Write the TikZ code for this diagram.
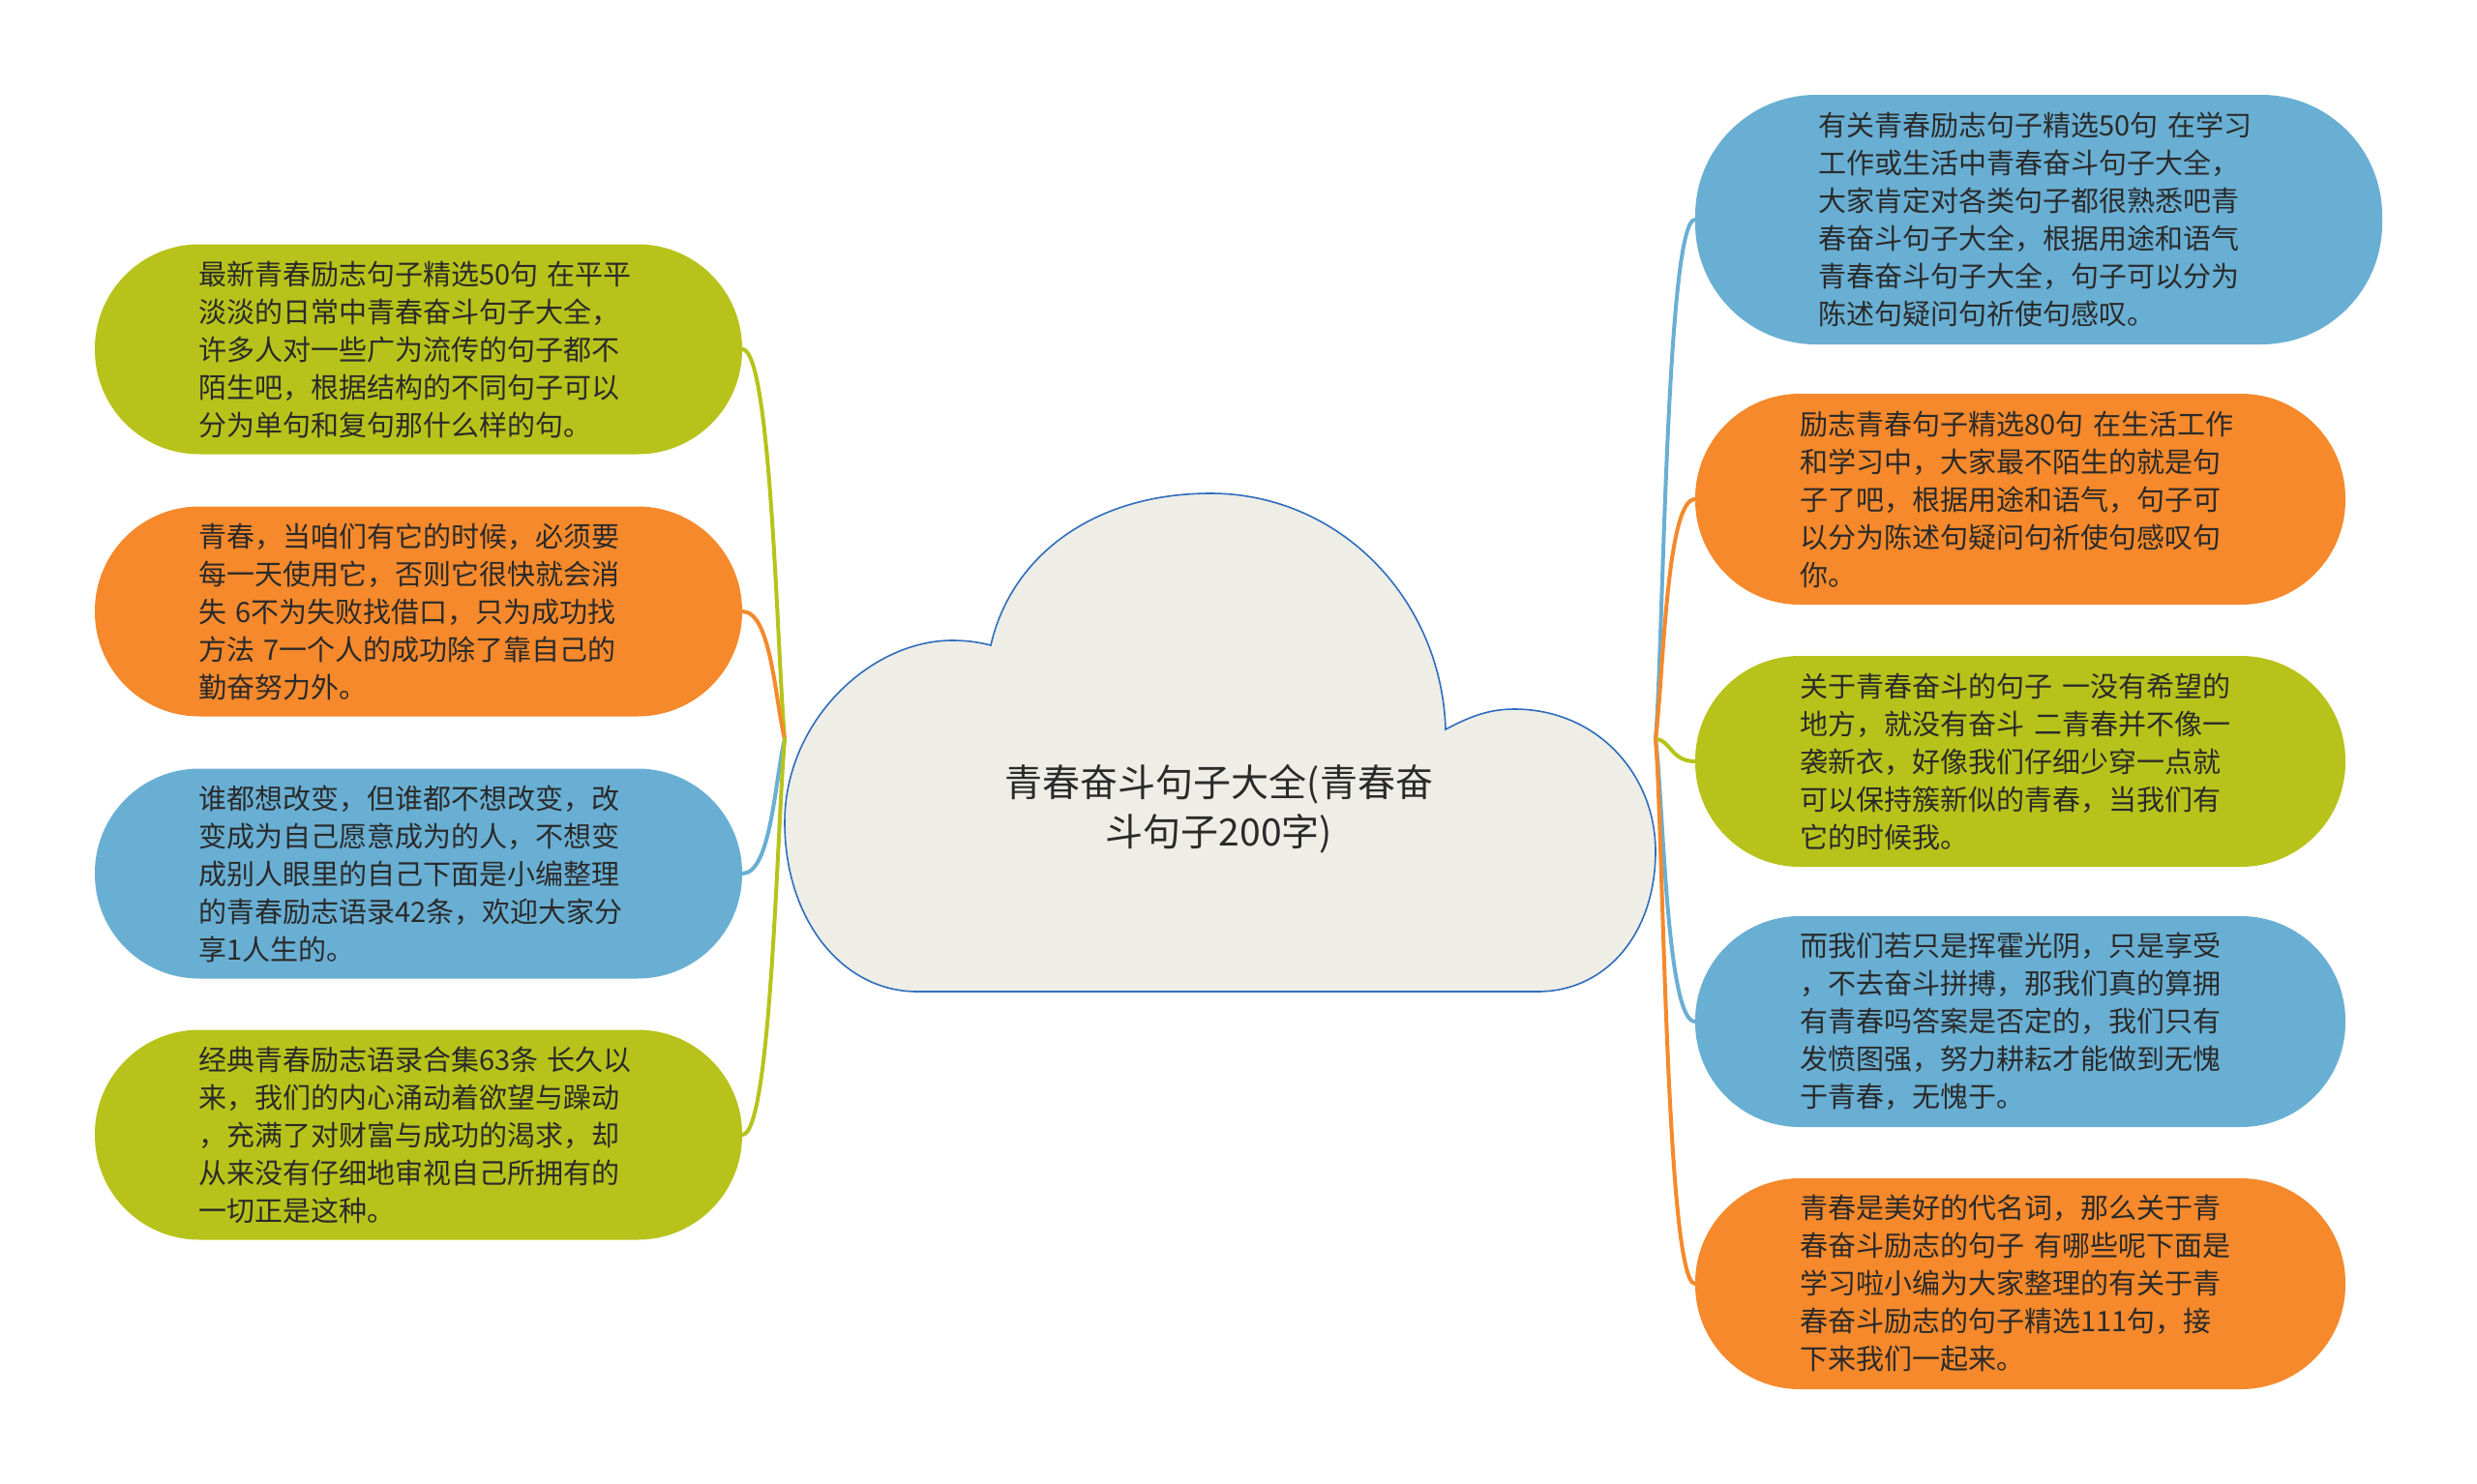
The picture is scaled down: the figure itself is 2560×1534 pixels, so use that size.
\documentclass[tikz,border=0pt]{standalone}
\usepackage{fontspec}
\setmainfont{Noto Sans CJK SC}
\usetikzlibrary{calc}
\definecolor{cgreen}{HTML}{B7C31A}
\definecolor{corange}{HTML}{F5892B}
\definecolor{cblue}{HTML}{69AFD3}
\definecolor{cloudfill}{HTML}{EEEEE6}
\definecolor{cloudline}{HTML}{2F6DBE}
\definecolor{txt}{HTML}{2A2A2A}
\begin{document}
\begin{tikzpicture}[x=1pt,y=-1pt,
  leaf/.style={rounded corners=108pt, minimum width=669pt, minimum height=217pt,
    text width=455pt, align=left, inner sep=0pt,
    font=\fontsize{29}{39}\selectfont, text=txt},
  bigleaf/.style={leaf, rounded corners=125pt, minimum width=710pt, minimum height=258pt},
  link/.style={line width=4pt, line cap=round},
  title/.style={font=\fontsize{39}{51}\selectfont, text=txt, align=center}]
\useasboundingbox (0,0) rectangle (2560,1534);
\fill[white] (0,0) rectangle (2560,1534);

% cloud
\draw[fill=cloudfill, draw=cloudline, line width=1.6pt]
  (1024,667) .. controls (1045,575) and (1130,510) .. (1251,510)
  .. controls (1385,510) and (1490,620) .. (1494,754)
  .. controls (1520,740) and (1540,733) .. (1565,733)
  .. controls (1650,733) and (1711,800) .. (1711,880)
  .. controls (1711,965) and (1660,1025) .. (1589,1025)
  -- (948,1025)
  .. controls (870,1025) and (811,950) .. (811,850)
  .. controls (811,745) and (900,662) .. (984,662)
  .. controls (1000,662) and (1012,664) .. (1024,667) -- cycle;
\node[title] (root) at (1260,836) {青春奋斗句子大全(青春奋\\斗句子200字)};
\coordinate (bl) at (811,764);
\coordinate (br) at (1711,764);

% left leaves
\node[leaf, fill=cgreen] (L1) at (432.5,361) {最新青春励志句子精选50句 在平平\\淡淡的日常中青春奋斗句子大全，\\许多人对一些广为流传的句子都不\\陌生吧，根据结构的不同句子可以\\分为单句和复句那什么样的句。};
\node[leaf, fill=corange] (L2) at (432.5,632) {青春，当咱们有它的时候，必须要\\每一天使用它，否则它很快就会消\\失 6不为失败找借口，只为成功找\\方法 7一个人的成功除了靠自己的\\勤奋努力外。};
\node[leaf, fill=cblue] (L3) at (432.5,903) {谁都想改变，但谁都不想改变，改\\变成为自己愿意成为的人，不想变\\成别人眼里的自己下面是小编整理\\的青春励志语录42条，欢迎大家分\\享1人生的。};
\node[leaf, fill=cgreen] (L4) at (432.5,1173) {经典青春励志语录合集63条 长久以\\来，我们的内心涌动着欲望与躁动\\，充满了对财富与成功的渴求，却\\从来没有仔细地审视自己所拥有的\\一切正是这种。};

% right leaves
\node[bigleaf, fill=cblue] (R1) at (2107,227) {有关青春励志句子精选50句 在学习\\工作或生活中青春奋斗句子大全，\\大家肯定对各类句子都很熟悉吧青\\春奋斗句子大全，根据用途和语气\\青春奋斗句子大全，句子可以分为\\陈述句疑问句祈使句感叹。};
\node[leaf, minimum width=672pt, minimum height=218pt, fill=corange] (R2) at (2088,516) {励志青春句子精选80句 在生活工作\\和学习中，大家最不陌生的就是句\\子了吧，根据用途和语气，句子可\\以分为陈述句疑问句祈使句感叹句\\你。};
\node[leaf, minimum width=672pt, minimum height=218pt, fill=cgreen] (R3) at (2088,787) {关于青春奋斗的句子 一没有希望的\\地方，就没有奋斗 二青春并不像一\\袭新衣，好像我们仔细少穿一点就\\可以保持簇新似的青春，当我们有\\它的时候我。};
\node[leaf, minimum width=672pt, minimum height=218pt, fill=cblue] (R4) at (2088,1056) {而我们若只是挥霍光阴，只是享受\\，不去奋斗拼搏，那我们真的算拥\\有青春吗答案是否定的，我们只有\\发愤图强，努力耕耘才能做到无愧\\于青春，无愧于。};
\node[leaf, minimum width=672pt, minimum height=218pt, fill=corange] (R5) at (2088,1327) {青春是美好的代名词，那么关于青\\春奋斗励志的句子 有哪些呢下面是\\学习啦小编为大家整理的有关于青\\春奋斗励志的句子精选111句，接\\下来我们一起来。};

% connectors left
\draw[link, cgreen] (L1.east) .. controls +(30,0) and +(-8,-90) .. (bl);
\draw[link, corange] (L2.east) .. controls +(30,0) and +(-10,-40) .. (bl);
\draw[link, cblue] (L3.east) .. controls +(30,0) and +(-10,40) .. (bl);
\draw[link, cgreen] (L4.east) .. controls +(30,0) and +(-8,90) .. (bl);
% connectors right
\draw[link, cblue] (R1.west) .. controls +(-30,0) and +(8,-90) .. (br);
\draw[link, corange] (R2.west) .. controls +(-30,0) and +(8,-60) .. (br);
\draw[link, cgreen] (R3.west) .. controls +(-25,0) and +(15,0) .. (br);
\draw[link, cblue] (R4.west) .. controls +(-30,0) and +(8,60) .. (br);
\draw[link, corange] (R5.west) .. controls +(-30,0) and +(8,90) .. (br);
\end{tikzpicture}
\end{document}
